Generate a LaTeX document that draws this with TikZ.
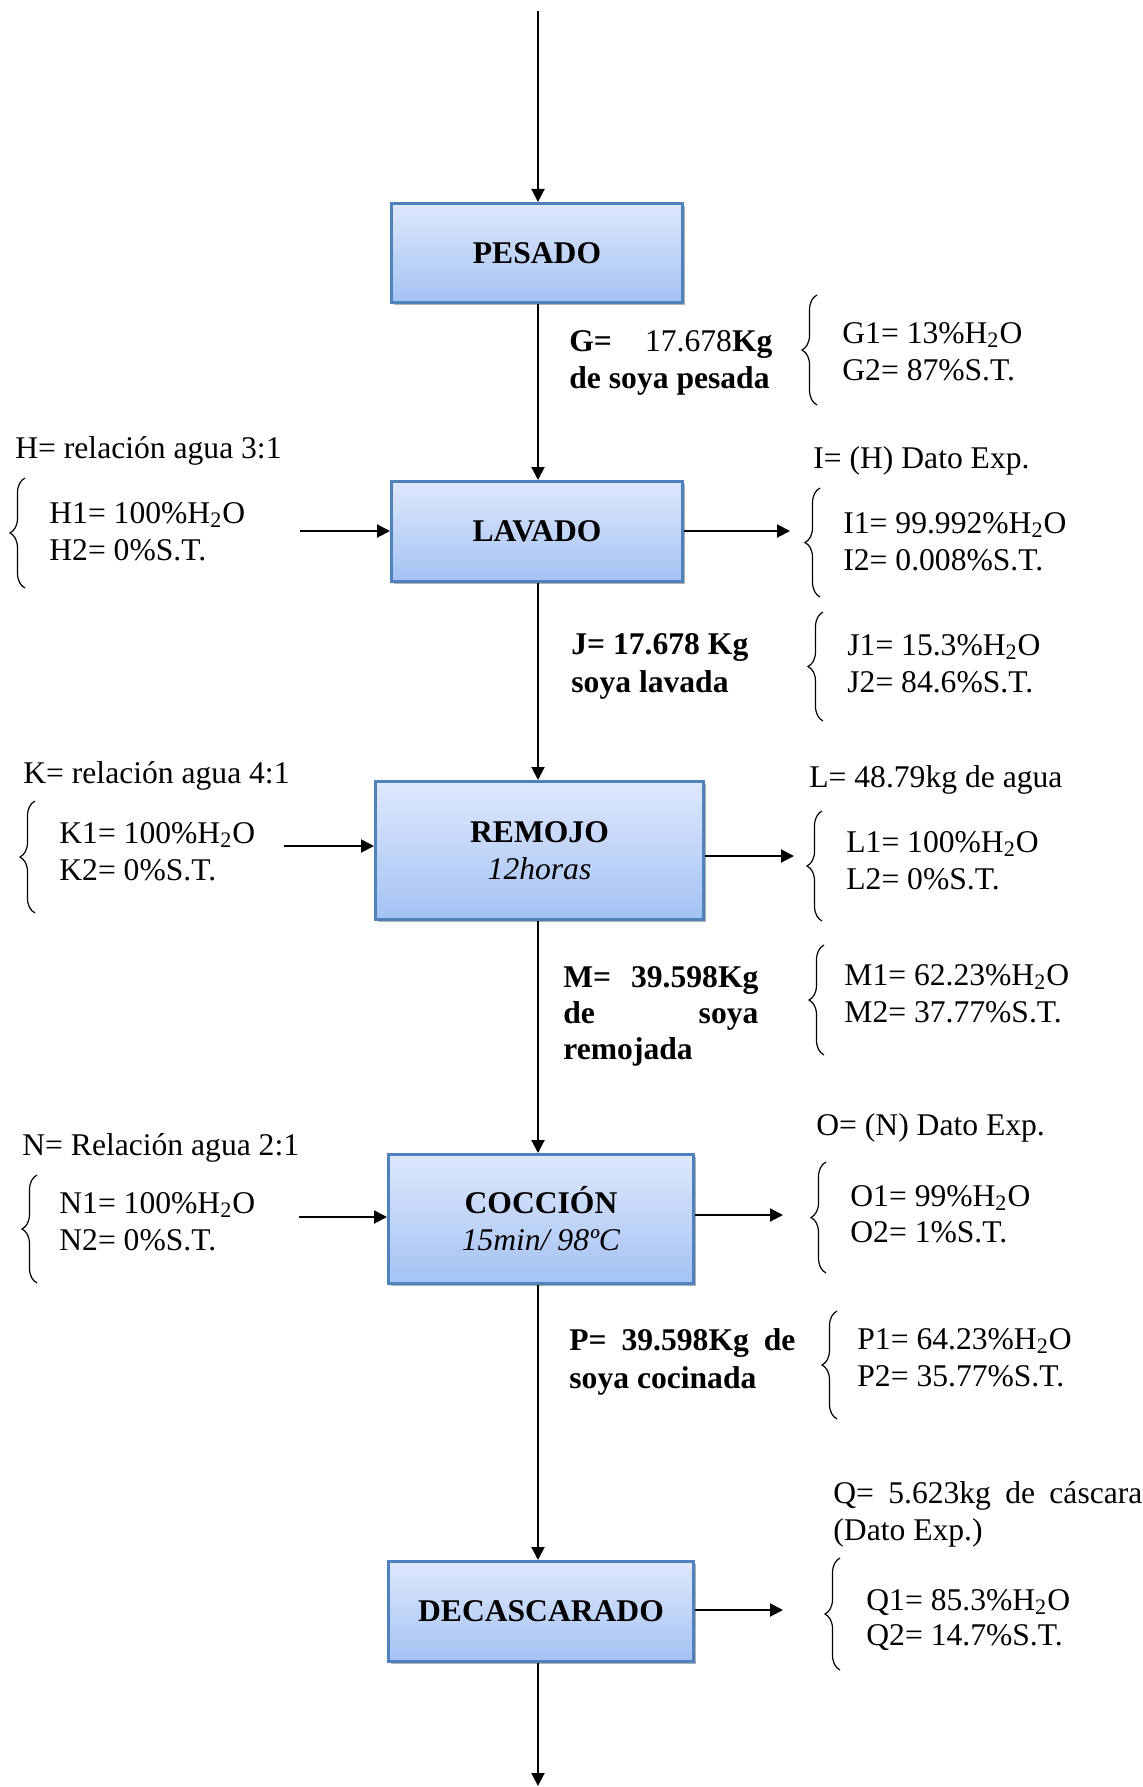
\documentclass[tikz,border=0pt]{standalone}
\usepackage{fontspec}
\setmainfont{Liberation Serif}
\usetikzlibrary{arrows.meta,shadows,decorations.pathreplacing}
\definecolor{boxedge}{RGB}{79,129,189}
\definecolor{boxtop}{RGB}{222,232,252}
\definecolor{boxbot}{RGB}{164,194,244}
\newcommand{\fs}{\fontsize{15.8}{18.5}\selectfont}
\newcommand{\water}{H\textsubscript{2}O}

\begin{document}
\begin{tikzpicture}[x=0.5pt,y=-0.5pt,
  proc/.style={draw=boxedge, line width=1.5pt, top color=boxtop, bottom color=boxbot,
    drop shadow={shadow xshift=1.2pt, shadow yshift=-1.2pt, fill=black, opacity=0.3},
    font=\fs\bfseries, align=center, inner sep=0pt},
  lbl/.style={inner sep=0pt, anchor=base west, font=\fs},
  blbl/.style={lbl, font=\fs\bfseries},
  flow/.style={line width=1pt, -{Triangle[length=6.5pt,width=6.5pt]}},
  curly/.style={decorate, decoration={brace, amplitude=7.5pt}, line width=0.6pt}]
\useasboundingbox (0,0) rectangle (1143,1787);

% process steps
\node[proc, minimum width=145.5pt, minimum height=49.5pt] (pesado) at (537,253) {PESADO};
\node[proc, minimum width=145.5pt, minimum height=50pt] (lavado) at (537,531.5) {LAVADO};
\node[proc, minimum width=164pt, minimum height=69pt] (remojo) at (539.5,850.5)
  {REMOJO\\\textit{\mdseries 12horas}};
\node[proc, minimum width=152.5pt, minimum height=64.5pt] (coccion) at (541,1219)
  {COCCIÓN\\\textit{\mdseries 15min/ 98ºC}};
\node[proc, minimum width=152.5pt, minimum height=50pt] (decas) at (541,1611.5) {DECASCARADO};

% main flow line
\coordinate (src) at (538,11);
\coordinate (sink) at (538,1786);
\draw[flow] (src) -- (src |- pesado.north);
\draw[flow] (src |- pesado.south) -- (src |- lavado.north);
\draw[flow] (src |- lavado.south) -- (src |- remojo.north);
\draw[flow] (src |- remojo.south) -- (src |- coccion.north);
\draw[flow] (src |- coccion.south) -- (src |- decas.north);
\draw[flow] (src |- decas.south) -- (sink);

% side streams
\coordinate (hin) at (300,531);
\coordinate (iout) at (790,531);
\coordinate (kin) at (284,846);
\coordinate (lout) at (794,856);
\coordinate (nin) at (299,1217);
\coordinate (oout) at (783,1215);
\coordinate (qout) at (783,1610);
\draw[flow] (hin) -- (hin -| lavado.west);
\draw[flow] (iout -| lavado.east) -- (iout);
\draw[flow] (kin) -- (kin -| remojo.west);
\draw[flow] (lout -| remojo.east) -- (lout);
\draw[flow] (nin) -- (nin -| coccion.west);
\draw[flow] (oout -| coccion.east) -- (oout);
\draw[flow] (qout -| decas.east) -- (qout);

% stream G
\node[lbl] (gm1) at (569,351) {\hbox to 101.5pt{\textbf{G=}\hfill 17.678\textbf{Kg}}};
\node[blbl] (gm2) at (569,388) {de soya pesada};
\draw[curly] (817,405) -- (817,295);
\node[lbl] (g1) at (842,343) {G1= 13\%\water};
\node[lbl] (g2) at (842,380) {G2= 87\%S.T.};

% stream H
\node[lbl] (hh) at (15,458) {H= relación agua 3:1};
\draw[curly] (25,588) -- (25,478);
\node[lbl] (h1) at (49,523) {H1= 100\%\water};
\node[lbl] (h2) at (49,560) {H2= 0\%S.T.};

% stream I
\node[lbl] (ih) at (813,468) {I= (H) Dato Exp.};
\draw[curly] (820,597) -- (820,488);
\node[lbl] (i1) at (843,533) {I1= 99.992\%\water};
\node[lbl] (i2) at (843,570) {I2= 0.008\%S.T.};

% stream J
\node[blbl] (jm1) at (571,654) {J= 17.678 Kg};
\node[blbl] (jm2) at (571,692) {soya lavada};
\draw[curly] (823,721) -- (823,612);
\node[lbl] (j1) at (847,655) {J1= 15.3\%\water};
\node[lbl] (j2) at (847,692) {J2= 84.6\%S.T.};

% stream K
\node[lbl] (kh) at (23,783) {K= relación agua 4:1};
\draw[curly] (35,913) -- (35,801);
\node[lbl] (k1) at (59,843) {K1= 100\%\water};
\node[lbl] (k2) at (59,880) {K2= 0\%S.T.};

% stream L
\node[lbl] (lh) at (809,787) {L= 48.79kg de agua};
\draw[curly] (822,921) -- (822,811);
\node[lbl] (l1) at (846,852) {L1= 100\%\water};
\node[lbl] (l2) at (846,889) {L2= 0\%S.T.};

% stream M
\node[blbl] (mm1) at (563,987) {\hbox to 97.5pt{M=\hfill 39.598Kg}};
\node[blbl] (mm2) at (563,1023) {\hbox to 97.5pt{de\hfill soya}};
\node[blbl] (mm3) at (563,1059) {remojada};
\draw[curly] (824,1055) -- (824,945);
\node[lbl] (m1) at (844,985) {M1= 62.23\%\water};
\node[lbl] (m2) at (844,1022) {M2= 37.77\%S.T.};

% stream N
\node[lbl] (nh) at (22,1155) {N= Relación agua 2:1};
\draw[curly] (37,1283) -- (37,1175);
\node[lbl] (n1) at (59,1213) {N1= 100\%\water};
\node[lbl] (n2) at (59,1250) {N2= 0\%S.T.};

% stream O
\node[lbl] (oh) at (816,1135) {O= (N) Dato Exp.};
\draw[curly] (826,1273) -- (826,1162);
\node[lbl] (o1) at (850,1206) {O1= 99\%\water};
\node[lbl] (o2) at (850,1242) {O2= 1\%S.T.};

% stream P
\node[blbl] (pm1) at (569,1350) {\hbox to 113pt{P=\hfill 39.598Kg\hfill de}};
\node[blbl] (pm2) at (569,1388) {soya cocinada};
\draw[curly] (837,1419) -- (837,1311);
\node[lbl] (p1) at (857,1349) {P1= 64.23\%\water};
\node[lbl] (p2) at (857,1386) {P2= 35.77\%S.T.};

% stream Q
\node[lbl] (qh1) at (833,1503) {\hbox to 154.5pt{Q=\hfill 5.623kg\hfill de\hfill cáscara}};
\node[lbl] (qh2) at (833,1540) {(Dato Exp.)};
\draw[curly] (840,1670) -- (840,1558);
\node[lbl] (q1) at (866,1610) {Q1= 85.3\%\water};
\node[lbl] (q2) at (866,1645) {Q2= 14.7\%S.T.};
\end{tikzpicture}
\end{document}
